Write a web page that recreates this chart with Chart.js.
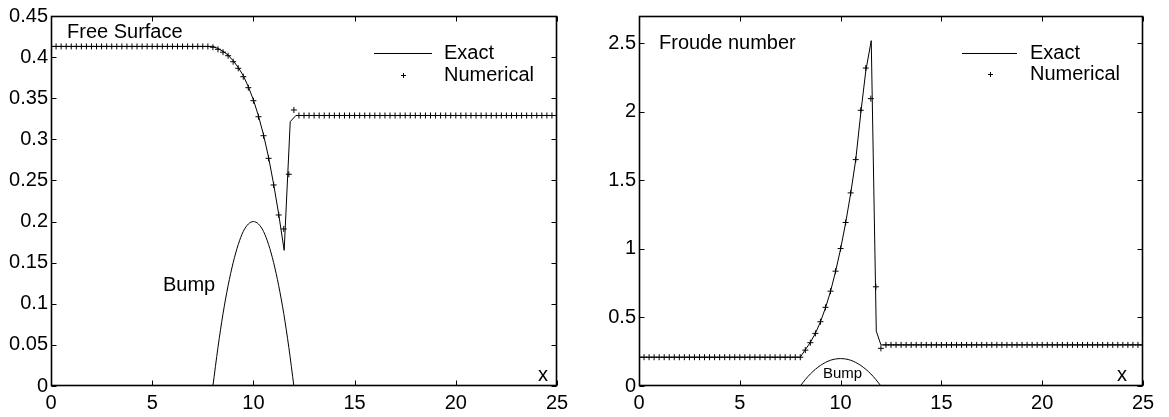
<!DOCTYPE html>
<html>
<head>
<meta charset="utf-8">
<script src="https://cdn.jsdelivr.net/npm/chart.js@4.4.1/dist/chart.umd.min.js"></script>
<style>
  body { margin: 0; background: #fff; }
  canvas { position: absolute; top: 0; }
  #surface { left: 0; }
  #froude { left: 580px; }
</style>
</head>
<body>
<canvas id="surface" width="580" height="417"></canvas>
<canvas id="froude" width="589" height="417"></canvas>
<script>
// grid nodes where the numerical solution is plotted
const numX = [
  0, 0.25, 0.5, 0.75, 1, 1.25, 1.5, 1.75, 2, 2.25, 2.5, 2.75, 3, 3.25, 3.5, 3.75,
  4, 4.25, 4.5, 4.75, 5, 5.25, 5.5, 5.75, 6, 6.25, 6.5, 6.75, 7, 7.25, 7.5, 7.75,
  8, 8.25, 8.5, 8.75, 9, 9.25, 9.5, 9.75, 10, 10.25, 10.5, 10.75, 11, 11.25, 11.5, 11.75,
  12, 12.25, 12.5, 12.75, 13, 13.25, 13.5, 13.75, 14, 14.25, 14.5, 14.75, 15, 15.25, 15.5, 15.75,
  16, 16.25, 16.5, 16.75, 17, 17.25, 17.5, 17.75, 18, 18.25, 18.5, 18.75, 19, 19.25, 19.5, 19.75,
  20, 20.25, 20.5, 20.75, 21, 21.25, 21.5, 21.75, 22, 22.25, 22.5, 22.75, 23, 23.25, 23.5, 23.75,
  24, 24.25, 24.5, 24.75, 25
];

// free surface, numerical
const surfaceNum = [
  0.413, 0.413, 0.413, 0.413, 0.413, 0.413, 0.413, 0.413, 0.413, 0.413, 0.413, 0.413, 0.413, 0.413, 0.413, 0.413,
  0.413, 0.413, 0.413, 0.413, 0.413, 0.413, 0.413, 0.413, 0.413, 0.413, 0.413, 0.413, 0.413, 0.413, 0.413, 0.413,
  0.412, 0.4095, 0.406, 0.4017, 0.3944, 0.3864, 0.3762, 0.3628, 0.347, 0.3275, 0.3044, 0.2769, 0.2445, 0.208, 0.191, 0.2575,
  0.3357, 0.329, 0.329, 0.329, 0.329, 0.329, 0.329, 0.329, 0.329, 0.329, 0.329, 0.329, 0.329, 0.329, 0.329, 0.329,
  0.329, 0.329, 0.329, 0.329, 0.329, 0.329, 0.329, 0.329, 0.329, 0.329, 0.329, 0.329, 0.329, 0.329, 0.329, 0.329,
  0.329, 0.329, 0.329, 0.329, 0.329, 0.329, 0.329, 0.329, 0.329, 0.329, 0.329, 0.329, 0.329, 0.329, 0.329, 0.329,
  0.329, 0.329, 0.329, 0.329, 0.329
];

// free surface, exact
const surfaceExactX = [0, 8, 8.25, 8.5, 8.75, 9, 9.25, 9.5, 9.75, 10, 10.25, 10.5, 10.75, 11, 11.25, 11.52, 11.82, 12.1, 25];
const surfaceExactY = [0.413, 0.413, 0.4105, 0.407, 0.4025, 0.3955, 0.3875, 0.3775, 0.364, 0.348, 0.3285, 0.3055, 0.278, 0.2455, 0.209, 0.165, 0.3215, 0.329, 0.329];

// Froude number, numerical
const froudeNum = [
  0.21, 0.21, 0.21, 0.21, 0.21, 0.21, 0.21, 0.21, 0.21, 0.21, 0.21, 0.21, 0.21, 0.21, 0.21, 0.21,
  0.21, 0.21, 0.21, 0.21, 0.21, 0.21, 0.21, 0.21, 0.21, 0.21, 0.21, 0.21, 0.21, 0.21, 0.21, 0.21,
  0.21, 0.262, 0.316, 0.384, 0.469, 0.574, 0.692, 0.838, 1.003, 1.193, 1.409, 1.652, 2.012, 2.32, 2.097, 0.724,
  0.275, 0.30, 0.30, 0.30, 0.30, 0.30, 0.30, 0.30, 0.30, 0.30, 0.30, 0.30, 0.30, 0.30, 0.30, 0.30,
  0.30, 0.30, 0.30, 0.30, 0.30, 0.30, 0.30, 0.30, 0.30, 0.30, 0.30, 0.30, 0.30, 0.30, 0.30, 0.30,
  0.30, 0.30, 0.30, 0.30, 0.30, 0.30, 0.30, 0.30, 0.30, 0.30, 0.30, 0.30, 0.30, 0.30, 0.30, 0.30,
  0.30, 0.30, 0.30, 0.30, 0.30
];

// Froude number, exact
const froudeExactX = [0, 8, 8.25, 8.5, 8.75, 9, 9.25, 9.5, 9.75, 10, 10.25, 10.5, 10.75, 11, 11.25, 11.52, 11.77, 12, 25];
const froudeExactY = [0.21, 0.21, 0.265, 0.318, 0.385, 0.468, 0.57, 0.69, 0.835, 1.0, 1.19, 1.405, 1.65, 1.99, 2.3, 2.52, 0.40, 0.30, 0.30];

// bed profile
const bumpX = [8, 8.25, 8.5, 8.75, 9, 9.25, 9.5, 9.75, 10, 10.25, 10.5, 10.75, 11, 11.25, 11.5, 11.75, 12];
const bumpY = [0, 0.047, 0.088, 0.122, 0.15, 0.172, 0.188, 0.197, 0.2, 0.197, 0.188, 0.172, 0.15, 0.122, 0.088, 0.047, 0];

// axis ticks
const xTicks = [0, 5, 10, 15, 20, 25];
const xTickLabels = ['0', '5', '10', '15', '20', '25'];
const surfaceTicks = [0, 0.05, 0.1, 0.15, 0.2, 0.25, 0.3, 0.35, 0.4, 0.45];
const surfaceTickLabels = ['0', '0.05', '0.1', '0.15', '0.2', '0.25', '0.3', '0.35', '0.4', '0.45'];
const froudeTicks = [0, 0.5, 1, 1.5, 2, 2.5];
const froudeTickLabels = ['0', '0.5', '1', '1.5', '2', '2.5'];

const FONT = "'Liberation Sans', Arial, Helvetica, sans-serif";

function pairs(xs, ys) {
  return xs.map((x, i) => ({ x: x, y: ys[i] }));
}

function drawCross(ctx, x, y, r) {
  ctx.beginPath();
  ctx.moveTo(x - r, y); ctx.lineTo(x + r, y);
  ctx.moveTo(x, y - r); ctx.lineTo(x, y + r);
  ctx.stroke();
}

// box around the axes, inward ticks on all four sides, legend and annotations
const frame = {
  id: 'frame',
  afterDraw(chart, args, opts) {
    const ctx = chart.ctx;
    const a = chart.chartArea;
    const sx = chart.scales.x, sy = chart.scales.y;
    const L = Math.round(a.left) + 0.5, R = Math.round(a.right) - 0.5;
    const T = Math.round(a.top) + 0.5, B = Math.round(a.bottom) - 0.5;
    ctx.save();
    ctx.strokeStyle = '#000';
    ctx.lineWidth = 1.6;
    ctx.strokeRect(L, T, R - L, B - T);
    const tl = 5;
    ctx.beginPath();
    sx.ticks.forEach(t => {
      const px = Math.round(sx.getPixelForValue(t.value)) + 0.5;
      ctx.moveTo(px, B); ctx.lineTo(px, B - tl);
      ctx.moveTo(px, T); ctx.lineTo(px, T + tl);
    });
    sy.ticks.forEach(t => {
      const py = Math.round(sy.getPixelForValue(t.value)) + 0.5;
      ctx.moveTo(L, py); ctx.lineTo(L + tl, py);
      ctx.moveTo(R, py); ctx.lineTo(R - tl, py);
    });
    ctx.lineWidth = 1;
    ctx.stroke();

    // legend
    const lg = opts.legend;
    ctx.beginPath();
    ctx.moveTo(lg.x0, lg.y + 0.5); ctx.lineTo(lg.x1, lg.y + 0.5);
    ctx.stroke();
    drawCross(ctx, Math.round((lg.x0 + lg.x1) / 2) + 0.5, lg.y + lg.gap + 0.5, 2.5);
    ctx.fillStyle = '#000';
    ctx.textBaseline = 'middle';
    ctx.textAlign = 'left';
    ctx.font = lg.font;
    ctx.fillText('Exact', lg.textX, lg.y);
    ctx.fillText('Numerical', lg.textX, lg.y + lg.gap);

    // free text
    opts.notes.forEach(n => {
      ctx.font = n.font;
      ctx.textAlign = n.align || 'left';
      ctx.fillText(n.text, n.x, n.y);
    });
    ctx.restore();
  }
};

function makeChart(id, o) {
  return new Chart(document.getElementById(id), {
    type: 'line',
    data: {
      datasets: [
        {
          data: pairs(o.exactX, o.exactY),
          borderColor: '#000',
          borderWidth: 1,
          pointRadius: 0,
          tension: 0
        },
        {
          data: pairs(numX, o.num),
          showLine: false,
          pointStyle: 'cross',
          pointRadius: 3,
          pointBorderWidth: 1,
          pointBorderColor: '#000',
          borderColor: '#000'
        },
        {
          data: pairs(bumpX, bumpY),
          borderColor: '#000',
          borderWidth: 1,
          pointRadius: 0,
          cubicInterpolationMode: 'monotone'
        }
      ]
    },
    options: {
      responsive: false,
      animation: false,
      events: [],
      layout: { padding: { top: 16, right: o.padRight, left: 0, bottom: 0 } },
      scales: {
        x: {
          type: 'linear',
          min: 0,
          max: 25,
          afterBuildTicks: s => { s.ticks = xTicks.map(v => ({ value: v })); },
          afterFit: s => { s.height = 31; },
          grid: { display: false, drawTicks: false },
          border: { display: false },
          ticks: {
            padding: 5,
            color: '#000',
            font: { family: FONT, size: 20 },
            maxRotation: 0,
            callback: (v, i) => xTickLabels[i]
          }
        },
        y: {
          type: 'linear',
          min: 0,
          max: o.yMax,
          afterBuildTicks: s => { s.ticks = o.yTicks.map(v => ({ value: v })); },
          afterFit: s => { s.width = o.axisLeft; },
          grid: { display: false, drawTicks: false },
          border: { display: false },
          ticks: {
            padding: 3,
            color: '#000',
            font: { family: FONT, size: 20 },
            callback: (v, i) => o.yTickLabels[i]
          }
        }
      },
      plugins: {
        legend: { display: false },
        tooltip: { enabled: false },
        frame: {
          legend: o.legend,
          notes: o.notes
        }
      }
    },
    plugins: [frame]
  });
}

makeChart('surface', {
  exactX: surfaceExactX,
  exactY: surfaceExactY,
  num: surfaceNum,
  yMax: 0.45,
  yTicks: surfaceTicks,
  yTickLabels: surfaceTickLabels,
  axisLeft: 51,
  padRight: 23,
  legend: { x0: 374, x1: 432, y: 53, gap: 22, textX: 444, font: '20px ' + FONT },
  notes: [
    { text: 'Free Surface', x: 67, y: 32, font: '20px ' + FONT },
    { text: 'Bump', x: 163, y: 285, font: '20px ' + FONT },
    { text: 'x', x: 538, y: 375, font: '20px ' + FONT }
  ]
});

makeChart('froude', {
  exactX: froudeExactX,
  exactY: froudeExactY,
  num: froudeNum,
  yMax: 2.7,
  yTicks: froudeTicks,
  yTickLabels: froudeTickLabels,
  axisLeft: 59,
  padRight: 26,
  legend: { x0: 382, x1: 437, y: 53, gap: 21, textX: 450, font: '20px ' + FONT },
  notes: [
    { text: 'Froude number', x: 79, y: 43, font: '20px ' + FONT },
    { text: 'Bump', x: 243, y: 374, font: '15px ' + FONT },
    { text: 'x', x: 537, y: 375, font: '20px ' + FONT }
  ]
});
</script>
</body>
</html>
